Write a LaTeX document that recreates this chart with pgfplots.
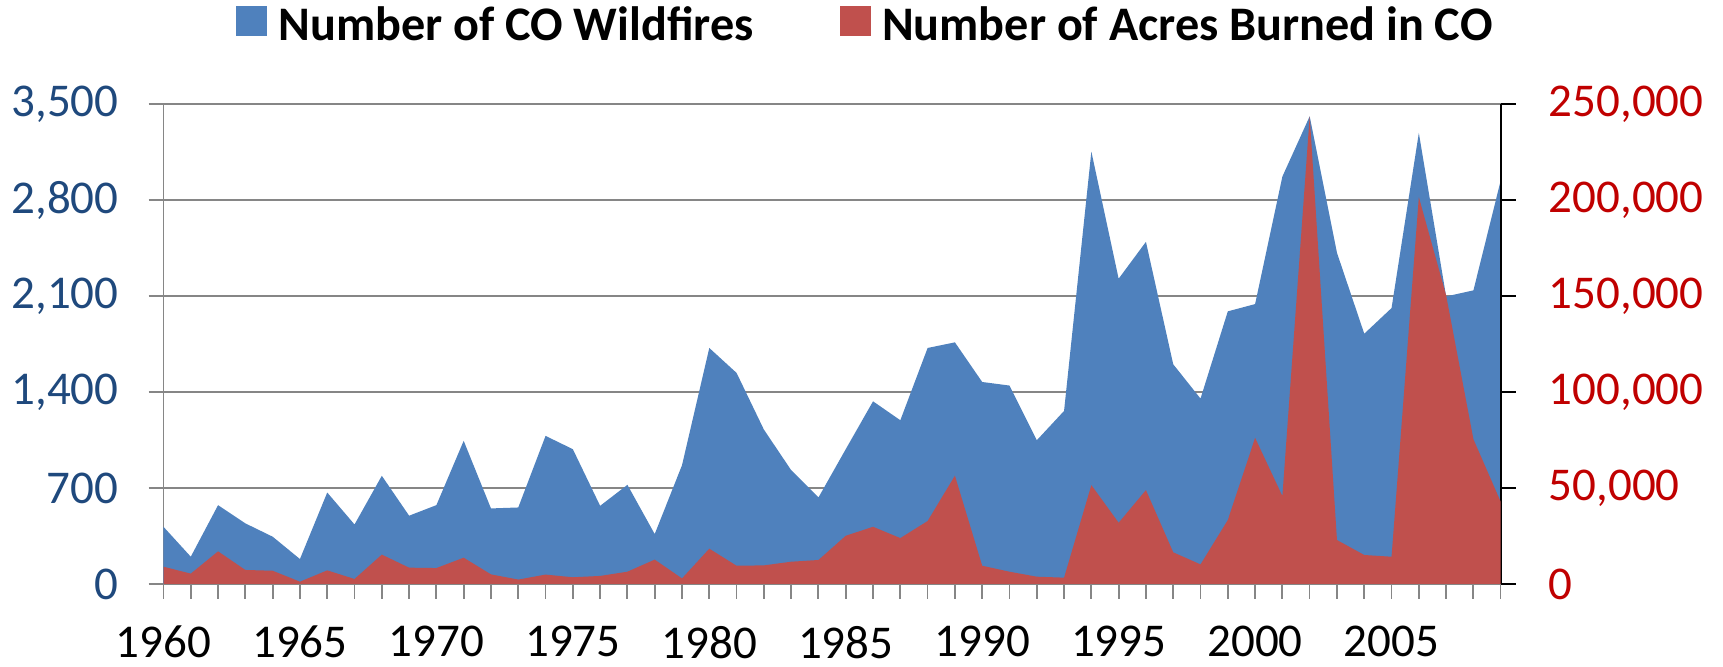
\documentclass[border=0pt]{standalone}
\usepackage{fontspec}
\setmainfont{Carlito}
\usepackage{pgfplots}
\usepackage{pgfplotstable}
\pgfplotsset{compat=1.18}
\definecolor{cblue}{HTML}{4F81BD}
\definecolor{cred}{HTML}{C0504D}
\definecolor{lblue}{HTML}{1F497D}
\definecolor{lred}{HTML}{C00000}
\definecolor{gridgray}{HTML}{868686}
\pgfplotstableread{
year fires acres
1960 417 9000
1961 199 5400
1962 575 17000
1963 442 7300
1964 345 6900
1965 182 1200
1966 667 7100
1967 434 2600
1968 789 15300
1969 498 8500
1970 575 8300
1971 1044 13700
1972 551 5000
1973 558 2300
1974 1080 4900
1975 983 3500
1976 570 4200
1977 723 6400
1978 364 12700
1979 866 2900
1980 1721 18400
1981 1539 9500
1982 1126 9700
1983 830 11600
1984 631 12500
1985 983 25100
1986 1332 29800
1987 1194 23900
1988 1721 32800
1989 1762 56400
1990 1473 9500
1991 1447 6400
1992 1048 3800
1993 1262 3300
1994 3153 51500
1995 2226 31900
1996 2495 48900
1997 1602 16500
1998 1352 10200
1999 1988 33300
2000 2041 76100
2001 2971 45800
2002 3410 243600
2003 2415 22900
2004 1825 15100
2005 2012 14200
2006 3289 201500
2007 2097 150300
2008 2141 75400
2009 2942 42800
}\data
\begin{document}
\begin{tikzpicture}
\useasboundingbox (-81.75pt,-41.5pt) rectangle (779.75pt,292pt);
\begin{axis}[
  at={(0pt,0pt)}, anchor=south west,
  width=668.6pt, height=240pt, scale only axis,
  xmin=1960, xmax=2009, ymin=0, ymax=3500,
  enlargelimits=false,
  axis x line*=bottom, axis y line*=left,
  axis line style={gridgray, line width=0.9pt, -},
  xtick={1960,1965,...,2005},
  minor xtick={1960,...,2009},
  ytick={0,700,...,3500},
  tick align=outside,
  major tick length=7.5pt, minor tick length=7.5pt,
  every tick/.style={gridgray, line width=0.9pt},
  ymajorgrids,
  grid style={gridgray, line width=0.9pt},
  scaled y ticks=false,
  /pgf/number format/assume math mode=true,
  tick label style={font=\fontsize{23.5}{28}\selectfont},
  xticklabel style={/pgf/number format/fixed, /pgf/number format/1000 sep={}, black, yshift=-10pt},
  yticklabel style={/pgf/number format/fixed, /pgf/number format/1000 sep={,}, lblue, xshift=-11.5pt},
  legend columns=2,
  legend style={draw=none, fill=none, inner sep=0pt,
    at={(axis description cs:0.0542,1.212)}, anchor=north west,
    font=\bfseries\fontsize{24.1}{28}\selectfont,
    /tikz/every even column/.append style={column sep=41pt}},
  legend image code/.code={\fill[#1] (0pt,-5.3pt) rectangle (15.5pt,9.7pt); \path (19pt,0pt);},
]
\addplot[fill=cblue, draw=none] table[x=year, y=fires]{\data} \closedcycle;
\addlegendentry{Number of CO Wildfires}
\addlegendimage{fill=cred, draw=none}
\addlegendentry{Number of Acres Burned in CO}
\end{axis}
\begin{axis}[
  at={(0pt,0pt)}, anchor=south west,
  width=668.6pt, height=240pt, scale only axis,
  xmin=1960, xmax=2009, ymin=0, ymax=250000,
  enlargelimits=false,
  axis x line=none, axis y line*=right,
  axis line style={black, line width=0.9pt, -},
  xtick=\empty,
  ytick={0,50000,...,250000},
  tick align=outside,
  major tick length=7.5pt,
  every tick/.style={black, line width=0.9pt},
  scaled y ticks=false,
  /pgf/number format/assume math mode=true,
  tick label style={font=\fontsize{23.5}{28}\selectfont},
  yticklabel style={/pgf/number format/fixed, /pgf/number format/1000 sep={,}, lred, xshift=13pt},
]
\addplot[fill=cred, draw=none] table[x=year, y=acres]{\data} \closedcycle;
\end{axis}
\end{tikzpicture}
\end{document}
